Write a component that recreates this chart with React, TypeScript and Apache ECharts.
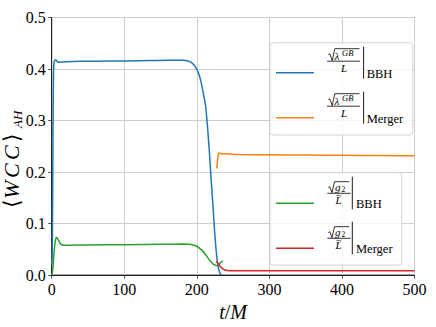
import React, { useEffect, useRef } from 'react';
import * as echarts from 'echarts';

// ---- data (t/M, value) ----
const tLambdaBBH = [0, 0.5, 1, 1.5, 2, 2.5, 3, 4, 5, 6, 8, 10, 14, 20, 40, 80, 120, 160, 180, 188, 194, 198, 202, 205, 208, 210, 212, 214, 216, 218, 220, 222, 224, 226, 228, 230, 232, 234];
const lambdaBBH = [0.02, 0.03, 0.08, 0.2, 0.32, 0.39, 0.41, 0.416, 0.418, 0.4175, 0.414, 0.413, 0.4138, 0.4143, 0.415, 0.4155, 0.416, 0.4168, 0.4168, 0.4155, 0.411, 0.404, 0.393, 0.38, 0.36, 0.345, 0.33, 0.3, 0.265, 0.225, 0.18, 0.14, 0.095, 0.058, 0.03, 0.012, 0.003, 0.0];

const tLambdaMerger = [227.5, 228.5, 229.5, 230.5, 232, 234, 237, 245, 260, 300, 350, 400, 450, 500];
const lambdaMerger = [0.207, 0.222, 0.233, 0.237, 0.237, 0.235, 0.2355, 0.235, 0.234, 0.2335, 0.233, 0.2325, 0.232, 0.2315];

const tG2BBH = [0, 1, 2, 3, 4, 5, 6, 7, 8, 10, 12, 14, 17, 25, 50, 100, 150, 180, 190, 196, 200, 204, 208, 212, 216, 220, 223, 226, 228, 230, 232, 234, 236];
const g2BBH = [0.0, 0.005, 0.02, 0.04, 0.056, 0.067, 0.072, 0.073, 0.071, 0.066, 0.061, 0.059, 0.058, 0.058, 0.0585, 0.059, 0.0598, 0.0603, 0.06, 0.058, 0.056, 0.052, 0.047, 0.04, 0.032, 0.025, 0.021, 0.019, 0.0185, 0.02, 0.023, 0.026, 0.027];

const tG2Merger = [226.5, 228, 230, 232, 235, 238, 242, 250, 300, 400, 500];
const g2Merger = [0.026, 0.025, 0.021, 0.017, 0.013, 0.0105, 0.009, 0.0085, 0.0085, 0.0085, 0.0085];

const X_MIN = 0, X_MAX = 500, X_STEP = 100;
const Y_MIN = 0, Y_MAX = 0.5, Y_STEP = 0.1;

const COLORS = ['#1f77b4', '#ff7f0e', '#2ca02c', '#d62728'];
const SERIF = "'Liberation Serif', 'DejaVu Serif', serif";

const zip = (t: number[], v: number[]) => t.map((x, i) => [x, v[i]]);

function txt(text: string, x: number, y: number, size: number, italic = false, align = 'left') {
  return {
    type: 'text',
    silent: true,
    z: 120,
    style: {
      text, x, y,
      font: `${italic ? 'italic' : 'normal'} normal ${size}px ${SERIF}`,
      fill: '#000',
      align, textAlign: align,
      verticalAlign: 'middle', textVerticalAlign: 'middle',
    },
  };
}
function seg(x1: number, y1: number, x2: number, y2: number, stroke = '#000', lineWidth = 0.8) {
  return { type: 'line', silent: true, z: 120, shape: { x1, y1, x2, y2 }, style: { stroke, lineWidth } };
}
function box(x: number, y: number, w: number, h: number) {
  return {
    type: 'rect', silent: true, z: 110,
    shape: { x, y, width: w, height: h, r: 3 },
    style: { fill: 'rgba(255,255,255,0.8)', stroke: '#d4d4d4', lineWidth: 1 },
  };
}

function lambdaEntry(T: number, color: string, sub: string) {
  return [
    seg(276, T + 26, 314, T + 26, color, 1.5),
    {
      type: 'polyline', silent: true, z: 120,
      shape: { points: [[328.3, T + 8], [329.8, T + 7], [332.2, T + 14], [334.8, T + 2], [359.5, T + 2]] },
      style: { stroke: '#000', fill: null, lineWidth: 0.8 },
    },
    txt('λ', 334.5, T + 9.5, 11, true),
    txt('GB', 342, T + 6, 8.5, true),
    seg(327, T + 14.5, 360, T + 14.5),
    txt('L', 344, T + 21.5, 11, true, 'center'),
    seg(363.6, T, 363.6, T + 32, '#000', 0.9),
    txt(sub, 366.7, T + 27.5, 12.5),
  ];
}

function g2Entry(T: number, color: string, sub: string) {
  return [
    seg(276, T + 26.6, 314, T + 26.6, color, 1.5),
    {
      type: 'polyline', silent: true, z: 120,
      shape: { points: [[328.3, T + 11], [329.8, T + 10], [332, T + 16], [334.5, T + 5], [349.3, T + 5]] },
      style: { stroke: '#000', fill: null, lineWidth: 0.8 },
    },
    txt('g', 335, T + 10, 11, true),
    txt('2', 341.5, T + 13, 7.5),
    seg(327.3, T + 16.6, 350.7, T + 16.6),
    {
      type: 'bezierCurve', silent: true, z: 120,
      shape: { x1: 336.3, y1: T + 19.4, cpx1: 338, cpy1: T + 17, cpx2: 339.5, cpy2: T + 20.8, x2: 341.3, y2: T + 18.4 },
      style: { stroke: '#000', fill: null, lineWidth: 0.7 },
    },
    txt('L', 338.5, T + 23, 11, true, 'center'),
    seg(352.3, T, 352.3, T + 32.6, '#000', 0.9),
    txt(sub, 356, T + 27.5, 12.5),
  ];
}

function yLabel() {
  const ch = (text: string, x: number, italic: boolean, size = 22, y = 0) => ({
    type: 'text', silent: true,
    style: {
      text, x, y, font: `${italic ? 'italic' : 'normal'} normal ${size}px ${SERIF}`, fill: '#000',
      align: 'left', textAlign: 'left', verticalAlign: 'middle', textVerticalAlign: 'middle',
    },
  });
  return {
    type: 'group',
    x: 11, y: 208,
    rotation: Math.PI / 2,
    children: [
      ch('⟨', 0, false),
      ch('W', 9, true),
      ch('C', 30, true),
      ch('C', 48, true),
      ch('⟩', 66, false),
      ch('AH', 80, true, 13, 6),
    ],
  };
}

export default function App() {
  const ref = useRef<HTMLDivElement>(null);
  useEffect(() => {
    if (!ref.current) return;
    const chart = echarts.init(ref.current, null, { renderer: 'svg' });
    const seriesData = [
      { name: 'lambda BBH', data: zip(tLambdaBBH, lambdaBBH) },
      { name: 'lambda Merger', data: zip(tLambdaMerger, lambdaMerger) },
      { name: 'g2 BBH', data: zip(tG2BBH, g2BBH) },
      { name: 'g2 Merger', data: zip(tG2Merger, g2Merger) },
    ];
    chart.setOption({
      animation: false,
      backgroundColor: '#fff',
      textStyle: { fontFamily: SERIF },
      grid: {
        left: 51.7, right: 21.5, top: 17.5, bottom: 48.7,
        show: true, borderColor: '#222', borderWidth: 1, backgroundColor: 'transparent',
      },
      xAxis: {
        type: 'value', min: X_MIN, max: X_MAX, interval: X_STEP,
        name: '{i|t}{u|/}{i|M}',
        nameLocation: 'middle', nameGap: 23,
        nameTextStyle: {
          rich: {
            i: { fontFamily: SERIF, fontStyle: 'italic', fontSize: 20, color: '#000' },
            u: { fontFamily: SERIF, fontSize: 20, color: '#000' },
          },
        },
        axisLine: { show: true, lineStyle: { color: '#222', width: 1 } },
        axisTick: { show: true, inside: false, length: 3.5, lineStyle: { color: '#222', width: 0.8 } },
        axisLabel: { color: '#000', fontFamily: SERIF, fontSize: 16, margin: 6 },
        splitLine: { show: true, lineStyle: { color: '#cfcfcf', width: 1 } },
      },
      yAxis: {
        type: 'value', min: Y_MIN, max: Y_MAX, interval: Y_STEP,
        axisLine: { show: true, lineStyle: { color: '#222', width: 1 } },
        axisTick: { show: true, inside: false, length: 3.5, lineStyle: { color: '#222', width: 0.8 } },
        axisLabel: { color: '#000', fontFamily: SERIF, fontSize: 16, margin: 6, formatter: (v: number) => v.toFixed(1) },
        splitLine: { show: true, lineStyle: { color: '#cfcfcf', width: 1 } },
      },
      series: seriesData.map((s, i) => ({
        type: 'line',
        name: s.name,
        data: s.data,
        showSymbol: false,
        smooth: 0.25,
        lineStyle: { color: COLORS[i], width: 1.5 },
        itemStyle: { color: COLORS[i] },
        z: 2 + i,
      })),
      graphic: [
        box(270, 42.7, 142.7, 92.3),
        ...lambdaEntry(46.7, COLORS[0], 'BBH'),
        ...lambdaEntry(91.7, COLORS[1], 'Merger'),
        box(270, 172.7, 131.7, 92.3),
        ...g2Entry(176.7, COLORS[2], 'BBH'),
        ...g2Entry(221.7, COLORS[3], 'Merger'),
        yLabel(),
      ],
    });
    return () => chart.dispose();
  }, []);
  return <div ref={ref} style={{ position: 'fixed', left: 0, top: 0, width: 436, height: 327 }} />;
}
